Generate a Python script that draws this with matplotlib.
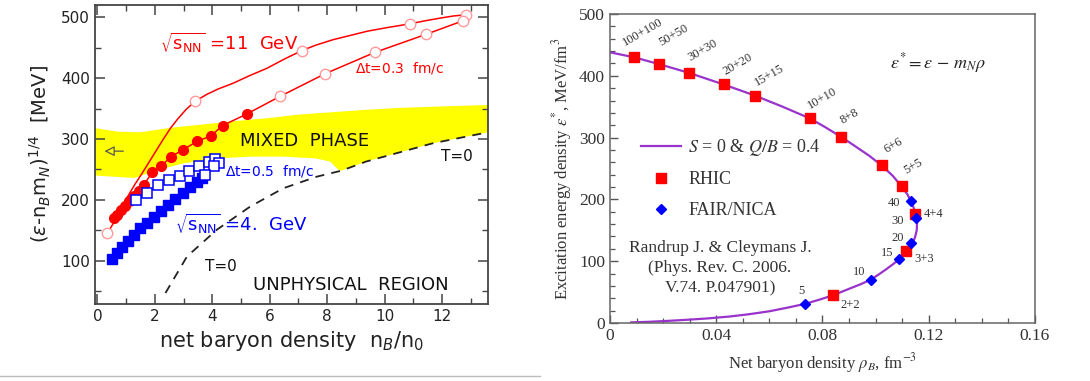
import numpy as np
import matplotlib.pyplot as plt
from matplotlib.lines import Line2D
from matplotlib.ticker import MultipleLocator

# ---------------- left panel data (n_B/n_0, MeV) ----------------
band_top_x = [-0.1, 0.7, 1.5, 2.5, 3.5, 4.7, 5.9, 7.0, 8.2, 9.4, 10.5, 11.7, 13.7]
band_top_y = [318, 312, 311, 318, 323, 329, 334, 340, 344, 348, 351, 353, 356]
band_bot_x = [-0.1, 1.3, 2.1, 3.0, 4.2, 5.3, 6.5, 7.6, 8.1, 8.4]
band_bot_y = [240, 236, 249, 260, 268, 271, 271, 268, 263, 249]

t0_x = [2.37, 3.12, 4.16, 5.32, 6.47, 7.63, 8.5, 9.36, 10.52, 11.68, 13.6]
t0_y = [47, 107, 151, 189, 219, 238, 248, 263, 278, 293, 311]

# sqrt(s_NN)=11 GeV, upper branch (line) and its open circles
a_x = [0.35, 0.6, 0.8, 1.05, 1.3, 1.55, 1.8, 2.05, 2.3, 2.55, 2.8, 3.1, 3.41, 3.8, 4.2, 4.7,
       5.3, 5.9, 6.5, 7.11, 7.6, 8.2, 8.8, 9.4, 10.1, 10.87, 11.4, 12.0, 12.4, 12.83]
a_y = [145, 165, 185, 205, 225, 243, 262, 281, 300, 318, 333, 349, 362, 373, 382, 391,
       404, 416, 431, 445, 454, 463, 470, 477, 483, 489, 494, 499, 502, 504]
a_open_x = [0.35, 3.41, 7.11, 10.87, 12.83]
a_open_y = [145, 362, 445, 489, 504]

# sqrt(s_NN)=11 GeV, dt=0.3 fm/c branch
b_fill_x = [0.58, 0.69, 0.81, 0.95, 1.10, 1.27, 1.45, 1.62, 1.91, 2.23, 2.57, 2.97, 3.47, 3.95, 4.36, 5.20]
b_fill_y = [170, 175, 183, 190, 198, 207, 215, 225, 245, 256, 271, 282, 296, 305, 322, 341]
b_open_x = [6.36, 7.92, 9.65, 11.45, 12.72]
b_open_y = [370, 407, 442, 472, 494]

# sqrt(s_NN)=4 GeV
sq_open_x = [1.36, 1.73, 2.10, 2.49, 2.86, 3.20, 3.55, 3.87, 4.10, 4.22, 4.05, 3.76]
sq_open_y = [200, 212, 224, 233, 240, 248, 255, 262, 267, 260, 255, 241]
sq_fill_x = [0.52, 0.69, 0.87, 1.08, 1.27, 1.50, 1.73, 1.97, 2.20, 2.46, 2.72, 2.97, 3.24, 3.47, 3.64]
sq_fill_y = [103, 113, 122, 133, 143, 153, 162, 172, 181, 191, 201, 211, 221, 229, 236]

# ---------------- right panel data (fm^-3, MeV/fm^3) ----------------
curve_rho = [0.0, 0.0091, 0.0184, 0.0296, 0.0428, 0.0546, 0.065, 0.0753, 0.081, 0.0871, 0.0920,
             0.0975, 0.1023, 0.1065, 0.1098, 0.1120, 0.1138, 0.1150, 0.1156, 0.1155, 0.1148,
             0.1135, 0.1120, 0.1105, 0.1089, 0.1065, 0.1040, 0.1010, 0.0981, 0.0945, 0.0910,
             0.0875, 0.0841, 0.079, 0.0735, 0.067, 0.060, 0.052, 0.045, 0.037, 0.030, 0.022,
             0.015, 0.008]
curve_eps = [438, 430, 419, 405, 386, 368, 350, 331, 317, 301, 287,
             271, 255, 238, 221, 208, 193, 178, 162, 150, 138,
             126, 117, 110, 103, 95, 87, 78, 70, 63, 57,
             51, 45, 38, 31, 25, 19, 14, 10.5, 7.5, 5.5, 3.5,
             2, 1]

rhic_labels = ['100+100', '50+50', '30+30', '20+20', '15+15', '10+10', '8+8', '6+6', '5+5',
               '4+4', '3+3', '2+2']
rhic_rho = [0.0091, 0.0184, 0.0296, 0.0428, 0.0546, 0.0753, 0.0871, 0.1023, 0.1098, 0.1150, 0.1116, 0.0841]
rhic_eps = [430, 419, 405, 386, 368, 331, 301, 255, 221, 176, 116, 45]

fair_labels = ['40', '30', '20', '15', '10', '5']
fair_rho = [0.1134, 0.1153, 0.1134, 0.1089, 0.0981, 0.0735]
fair_eps = [198, 170, 129, 103, 70, 31]

cite_lines = ['Randrup J. & Cleymans J.', '(Phys. Rev. C. 2006.', 'V.74. P.047901)']
cite_eps = [121, 89, 56]

fig = plt.figure(figsize=(10.9, 3.81), dpi=100)

# ---------------- left panel ----------------
ax1 = fig.add_axes([0.0872, 0.2021, 0.3606, 0.7848])
ax1.set_xlim(-0.08, 13.6)
ax1.set_ylim(29, 520)

poly_x = band_top_x + [t0_x[-1]] + [x for x in t0_x[::-1] if x >= 8.5] + band_bot_x[::-1]
poly_y = band_top_y + [t0_y[-1]] + [y for x, y in zip(t0_x[::-1], t0_y[::-1]) if x >= 8.5] + band_bot_y[::-1]
ax1.fill(poly_x, poly_y, color='#ffff00', lw=0, zorder=1)

ax1.plot(t0_x, t0_y, '--', color='#222222', lw=1.3, dashes=(5, 4), zorder=2)

ax1.plot(a_x, a_y, '-', color='red', lw=1.1, zorder=3)
ax1.plot(a_open_x, a_open_y, 'o', ms=7.5, mfc='white', mec='#ff9a9a', mew=1, zorder=4)
ax1.plot(b_fill_x + b_open_x, b_fill_y + b_open_y, '-', color='red', lw=1.1, zorder=3)
ax1.plot(b_fill_x, b_fill_y, 'o', ms=7, color='red', zorder=4)
ax1.plot(b_open_x, b_open_y, 'o', ms=7.5, mfc='white', mec='#ff9a9a', mew=1, zorder=4)

ax1.plot(sq_fill_x, sq_fill_y, 's', ms=7.5, color='blue', zorder=4)
ax1.plot(sq_open_x, sq_open_y, 's', ms=7.5, mfc='white', mec='blue', mew=1.1, zorder=5)

ax1.annotate('', xy=(0.15, 280), xytext=(1.0, 280),
             arrowprops=dict(arrowstyle='-|>,head_length=0.6,head_width=0.3',
                             fc='#ffff00', ec='#555555', lw=0.9), zorder=3)

ax1.text(2.18, 457, r'$\sqrt{\mathrm{s}_{\mathrm{NN}}}$ =11  GeV', color='red', fontsize=13, va='center')
ax1.text(8.97, 416, r'$\Delta$t=0.3  fm/c', color='red', fontsize=10, va='center')
ax1.text(4.97, 296, 'MIXED  PHASE', color='#111111', fontsize=13, va='center')
ax1.text(4.45, 247, r'$\Delta$t=0.5  fm/c', color='blue', fontsize=10, va='center')
ax1.text(2.72, 161, r'$\sqrt{\mathrm{s}_{\mathrm{NN}}}$ =4.  GeV', color='blue', fontsize=13, va='center')
ax1.text(11.97, 271, 'T=0', color='#111111', fontsize=11, va='center')
ax1.text(3.76, 91, 'T=0', color='#111111', fontsize=11, va='center')
ax1.text(5.43, 61, 'UNPHYSICAL  REGION', color='#111111', fontsize=13, va='center')

ax1.xaxis.set_major_locator(MultipleLocator(2))
ax1.xaxis.set_minor_locator(MultipleLocator(1))
ax1.yaxis.set_major_locator(MultipleLocator(100))
ax1.yaxis.set_minor_locator(MultipleLocator(50))
ax1.tick_params(which='both', direction='in', top=True, right=True, color='#444444')
ax1.tick_params(which='major', length=7, width=1.1, labelsize=11, labelcolor='#222222')
ax1.tick_params(which='minor', length=4, width=1.0)
for s in ax1.spines.values():
    s.set_color('#444444')
    s.set_linewidth(1.3)
ax1.set_xlabel(r'net baryon density  n$_B$/n$_0$', fontsize=15, color='#222222', labelpad=4)
ax1.set_ylabel(r'($\epsilon$-n$_B$m$_N$)$^{1/4}$  [MeV]', fontsize=14, color='#222222', labelpad=6)

# ---------------- right panel ----------------
serif = ['Liberation Serif', 'DejaVu Serif']
ax2 = fig.add_axes([0.5596, 0.1522, 0.3899, 0.811])
ax2.set_xlim(0, 0.16)
ax2.set_ylim(0, 500)

ax2.plot(curve_rho, curve_eps, '-', color='#9933cc', lw=1.6, label=r'$S$ = 0 & $Q/B$ = 0.4', zorder=2)
ax2.plot(rhic_rho, rhic_eps, 's', ms=7, color='red', lw=0, label='RHIC', zorder=3)
ax2.plot(fair_rho, fair_eps, 'D', ms=5.5, color='blue', lw=0, label='FAIR/NICA', zorder=4)

rhic_offsets = [(-8, 9), (4, 15), (3, 9), (3, 7), (3, 7), (1, 7), (3, 10), (6, 10), (6, 10),
                (8, 0), (8, -8), (7, -10)]
for i, lab in enumerate(rhic_labels):
    if i < 9:
        ax2.annotate(lab, (rhic_rho[i], rhic_eps[i]), xytext=rhic_offsets[i], textcoords='offset pixels',
                     rotation=30, rotation_mode='anchor', ha='left', va='bottom',
                     fontsize=9, color='#333333', family=serif)
    else:
        ax2.annotate(lab, (rhic_rho[i], rhic_eps[i]), xytext=rhic_offsets[i], textcoords='offset pixels',
                     ha='left', va='center', fontsize=9, color='#333333', family=serif)

fair_offsets = [(-11, -2), (-12, -3), (-7, 5), (-6, 6), (-5, 8), (-1, 13)]
for i, lab in enumerate(fair_labels):
    ax2.annotate(lab, (fair_rho[i], fair_eps[i]), xytext=fair_offsets[i], textcoords='offset pixels',
                 ha='right', va='center', fontsize=9, color='#333333', family=serif)

ax2.text(0.1054, 421, r'$\varepsilon^{*} = \varepsilon\, -\, m_N\rho$', fontsize=13,
         math_fontfamily='stix', ha='left', va='center', color='#222222')
for line, yv in zip(cite_lines, cite_eps):
    ax2.text(0.0414, yv, line, ha='center', va='center', fontsize=12.5, family=serif, color='#333333')

leg = ax2.legend(loc='upper left', bbox_to_anchor=(0.035, 0.655), frameon=False,
                 handlelength=2.2, handletextpad=0.4, labelspacing=0.75,
                 prop={'family': serif, 'size': 13})
for t in leg.get_texts():
    t.set_color('#333333')
    t.set_math_fontfamily('stix')

ax2.xaxis.set_major_locator(MultipleLocator(0.04))
ax2.xaxis.set_minor_locator(MultipleLocator(0.01))
ax2.yaxis.set_major_locator(MultipleLocator(100))
ax2.yaxis.set_minor_locator(MultipleLocator(20))
ax2.set_xticks([0, 0.04, 0.08, 0.12, 0.16])
ax2.set_xticklabels(['0', '0.04', '0.08', '0.12', '0.16'])
ax2.tick_params(which='both', direction='in', color='#555555')
ax2.tick_params(which='major', length=6, width=1.0, labelsize=12.5, labelcolor='#333333')
ax2.tick_params(which='minor', length=3.5, width=0.9)
for lab in ax2.get_xticklabels() + ax2.get_yticklabels():
    lab.set_family(serif)
for s in ax2.spines.values():
    s.set_color('#666666')
    s.set_linewidth(1.1)
ax2.set_xlabel(r'Net baryon density $\rho_B$, fm$^{-3}$', fontsize=12, family=serif,
               math_fontfamily='stix', color='#333333', labelpad=5)
ax2.set_ylabel(r'Excitation energy density $\varepsilon^{*}$, MeV/fm$^3$', fontsize=12, family=serif,
               math_fontfamily='stix', color='#333333', labelpad=4)

fig.add_artist(Line2D([0, 0.495], [0.013, 0.013], color='#bbbbbb', lw=1))

fig.savefig('out.png', dpi=100)
